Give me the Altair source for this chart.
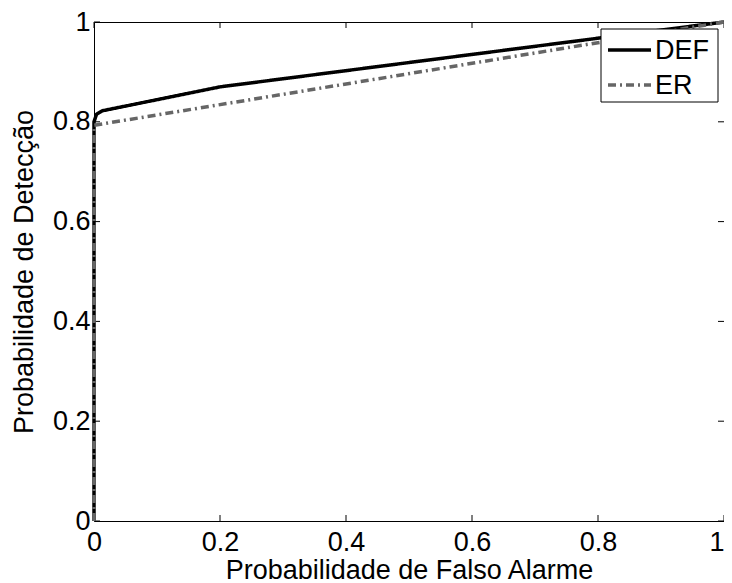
import altair as alt
import pandas as pd

# Data
def_x = [0.0, 0.0, 0.004, 0.013, 0.2, 1.0]
def_y = [0.0, 0.80, 0.815, 0.822, 0.870, 1.0]
er_x = [0.0, 0.0, 1.0]
er_y = [0.0, 0.793, 1.0]
series_names = ["DEF", "ER"]
series_colors = ["#000000", "#666666"]
series_dashes = [[1, 0], [8, 4, 2, 4]]
tick_values = [0, 0.2, 0.4, 0.6, 0.8, 1]

rows = []
for i, (x, y) in enumerate(zip(def_x, def_y)):
    rows.append({"s": "DEF", "x": x, "y": y, "o": i})
for i, (x, y) in enumerate(zip(er_x, er_y)):
    rows.append({"s": "ER", "x": x, "y": y, "o": i})
df = pd.DataFrame(rows)
ticks = pd.DataFrame({"t": tick_values})
names = pd.DataFrame({"s": series_names})

W, H = 630, 499
FONT = "Liberation Sans"
FS = 27

xscale = alt.Scale(domain=[0, 1], nice=False, zero=False)
yscale = alt.Scale(domain=[0, 1], nice=False, zero=False)
cscale = alt.Scale(domain=series_names, range=series_colors)
dscale = alt.Scale(domain=series_names, range=series_dashes)

lines = alt.Chart(df).mark_line(strokeWidth=3.5, clip=False).encode(
    x=alt.X("x:Q", scale=xscale, axis=alt.Axis(
        values=tick_values, format="~g", title="Probabilidade de Falso Alarme",
        labelFont=FONT, labelFontSize=FS, labelColor="black", labelPadding=8,
        labelAlign={"condition": {"test": "datum.value >= 1", "value": "right"}, "value": "center"},
        labelFlush=False, labelOverlap=False, ticks=False, domain=False, grid=False,
        titleFont=FONT, titleFontSize=FS, titleFontWeight="normal", titleColor="black",
        titleY=57, titleBaseline="alphabetic")),
    y=alt.Y("y:Q", scale=yscale, axis=alt.Axis(
        values=tick_values, format="~g", title="Probabilidade de Detecção",
        labelFont=FONT, labelFontSize=FS, labelColor="black", labelPadding=4,
        labelFlush=False, labelOverlap=False, ticks=False, domain=False, grid=False,
        titleFont=FONT, titleFontSize=FS, titleFontWeight="normal", titleColor="black",
        titleX=-70, titleY=H / 2, titleAngle=270, titleBaseline="middle", titleAlign="center")),
    color=alt.Color("s:N", scale=cscale, legend=None),
    strokeDash=alt.StrokeDash("s:N", scale=dscale, legend=None),
    order="o:Q",
)

tick_style = dict(color="black", strokeWidth=1)
bottom = alt.Chart(ticks).mark_rule(**tick_style).encode(
    x=alt.X("t:Q", scale=xscale), y=alt.value(H), y2=alt.value(H - 6))
top = alt.Chart(ticks).mark_rule(**tick_style).encode(
    x=alt.X("t:Q", scale=xscale), y=alt.value(0), y2=alt.value(6))
left = alt.Chart(ticks).mark_rule(**tick_style).encode(
    y=alt.Y("t:Q", scale=yscale), x=alt.value(0), x2=alt.value(6))
right = alt.Chart(ticks).mark_rule(**tick_style).encode(
    y=alt.Y("t:Q", scale=yscale), x=alt.value(W), x2=alt.value(W - 6))

# Legend box (drawn manually so it matches the reference's compact layout)
LX = W - 117 - 6
legend_box = alt.Chart(names.head(1)).mark_rect(
    fill="white", stroke="black", strokeWidth=1
).encode(x=alt.value(LX), x2=alt.value(LX + 117), y=alt.value(7), y2=alt.value(80))

legend_layers = []
for i, name in enumerate(series_names):
    ry = 28 + i * 35
    sub = names[names["s"] == name]
    legend_layers.append(
        alt.Chart(sub).mark_rule(strokeWidth=3.5).encode(
            x=alt.value(LX + 7), x2=alt.value(LX + 50), y=alt.value(ry),
            color=alt.Color("s:N", scale=cscale, legend=None),
            strokeDash=alt.StrokeDash("s:N", scale=dscale, legend=None),
        )
    )
    legend_layers.append(
        alt.Chart(sub).mark_text(
            align="left", baseline="middle", font=FONT, fontSize=FS, color="black"
        ).encode(x=alt.value(LX + 54), y=alt.value(ry + 1), text="s:N")
    )

chart = alt.layer(bottom, top, left, right, lines, legend_box, *legend_layers).properties(
    width=W, height=H,
    autosize=alt.AutoSizeParams(type="none"),
    padding={"left": 86, "top": 14, "right": 0, "bottom": 62},
).configure_view(
    stroke="black", strokeWidth=1
)

chart.save("out.html", embed_options={"renderer": "svg", "actions": False})
